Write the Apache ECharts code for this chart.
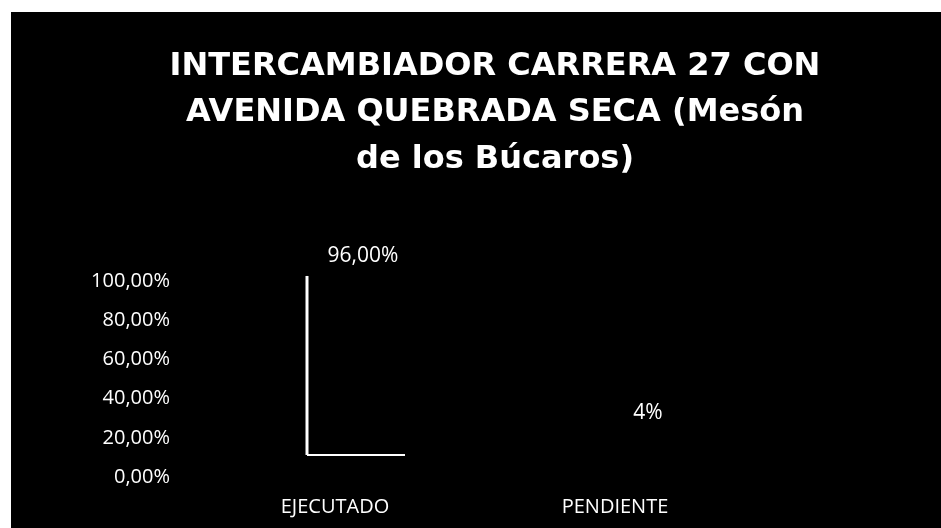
<!DOCTYPE html>
<html>
<head>
<meta charset="utf-8">
<script src="https://cdn.jsdelivr.net/npm/echarts@6/dist/echarts.min.js"></script>
<style>
  html, body { margin: 0; padding: 0; background: #ffffff; }
  #chart { width: 941px; height: 528px; }
</style>
</head>
<body>
<div id="chart"></div>
<script>
// Chart content
const titleLines = [
  'INTERCAMBIADOR CARRERA 27 CON',
  'AVENIDA QUEBRADA SECA (Mesón',
  'de los Búcaros)'
];
const categories = ['EJECUTADO', 'PENDIENTE'];
const avance = [96, 4];             // percent
const labelDecimals = [2, 0];       // decimals shown in each data label
const yTicks = [0, 20, 40, 60, 80, 100];

const fmtPct = (v, d) => v.toFixed(d).replace('.', ',') + '%';

const chart = echarts.init(document.getElementById('chart'), null, { renderer: 'canvas' });

// Front plane: axis labels. Back plane: the columns (3D depth shift).
const option = {
  backgroundColor: '#ffffff',
  animation: false,
  graphic: [{
    type: 'rect', silent: true, z: -10,
    shape: { x: 11, y: 12, width: 930, height: 516 },
    style: { fill: '#000000' }
  }],
  title: {
    text: titleLines.join('\n'),
    left: 490, top: 38, textAlign: 'center',
    textStyle: {
      color: '#ffffff', fontFamily: 'DejaVu Sans', fontWeight: 'bold',
      fontSize: 32, lineHeight: 46.5
    }
  },
  grid: [
    { left: 195, top: 281, width: 560, height: 196 },
    { left: 216, top: 268.5, width: 560, height: 186.5 }
  ],
  xAxis: [
    {
      gridIndex: 0, type: 'category', data: categories,
      axisLine: { show: false }, axisTick: { show: false },
      axisLabel: { color: '#ffffff', fontFamily: 'Open Sans', fontSize: 20, margin: 20 }
    },
    {
      gridIndex: 1, type: 'category', data: categories, show: false
    }
  ],
  yAxis: [
    {
      gridIndex: 0, type: 'value', min: 0, max: 100, interval: 20,
      axisLine: { show: false }, axisTick: { show: false }, splitLine: { show: false },
      axisLabel: {
        color: '#ffffff', fontFamily: 'Open Sans', fontSize: 20, margin: 25,
        formatter: v => yTicks.includes(v) ? fmtPct(v, 2) : ''
      }
    },
    {
      gridIndex: 1, type: 'value', min: 0, max: 100, show: false
    }
  ],
  series: [
    {
      // value labels on the columns
      type: 'bar', xAxisIndex: 1, yAxisIndex: 1,
      barWidth: 98,
      data: avance.map((v, i) => ({
        value: v,
        label: i === 0
          ? { distance: 9, offset: [7, 0] }
          : { distance: 24, offset: [12, 0] }
      })),
      itemStyle: { color: '#000000' },
      label: {
        show: true, position: 'top', color: '#ffffff',
        fontFamily: 'Open Sans', fontSize: 21,
        formatter: p => fmtPct(p.value, labelDecimals[p.dataIndex])
      },
      z: 2
    },
    {
      // column outline (left and floor edges)
      type: 'custom', xAxisIndex: 1, yAxisIndex: 1,
      data: avance.map((v, i) => [i, v]),
      renderItem: (params, api) => {
        if (params.dataIndex !== 0) return null;
        const x = api.value(0);
        const top = api.coord([x, api.value(1)]);
        const base = api.coord([x, 0]);
        const w = 98;
        const l = top[0] - w / 2, r = top[0] + w / 2;
        return {
          type: 'group',
          children: [
            { type: 'line', shape: { x1: l, y1: top[1], x2: l, y2: base[1] },
              style: { stroke: '#ffffff', lineWidth: 3 } },
            { type: 'line', shape: { x1: l, y1: base[1], x2: r, y2: base[1] },
              style: { stroke: '#ffffff', lineWidth: 2 } }
          ]
        };
      },
      z: 3
    }
  ]
};
chart.setOption(option);
</script>
</body>
</html>
